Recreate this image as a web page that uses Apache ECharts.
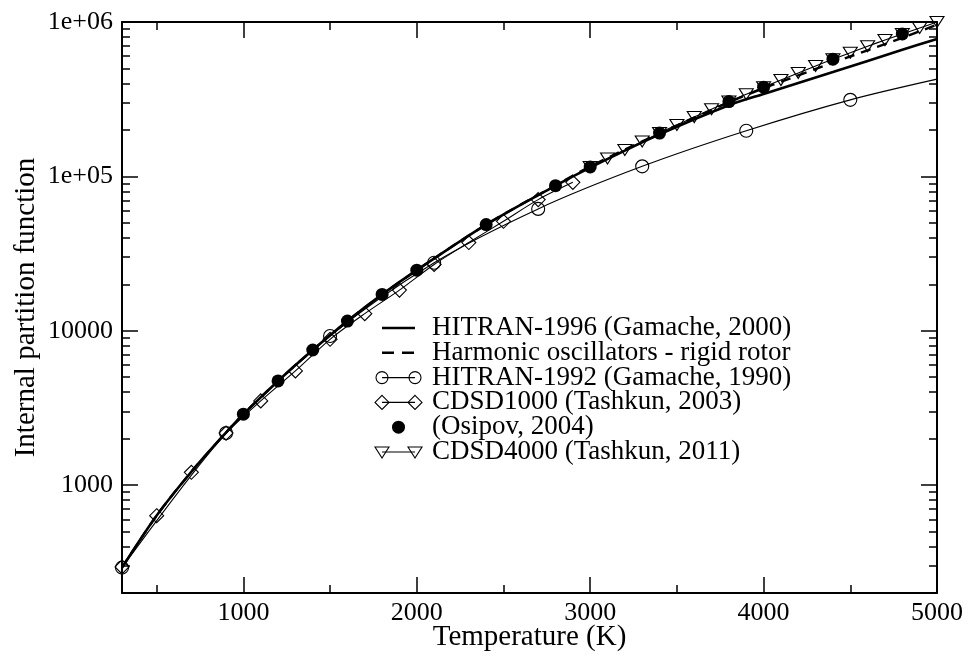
<!doctype html>
<html lang="en">
<head>
<meta charset="UTF-8">
<title>Internal partition function</title>
<script src="https://cdn.jsdelivr.net/npm/echarts@6/dist/echarts.min.js"></script>
<style>
    html, body { margin: 0; padding: 0; background: #fff; }
    #main { width: 969px; height: 656px; }
</style>
</head>
<body>
<div id="main"></div>
<script type="text/javascript">
// --- data ---
var seriesNames = [
    'HITRAN-1996 (Gamache, 2000)',
    'Harmonic oscillators - rigid rotor',
    'HITRAN-1992 (Gamache, 1990)',
    'CDSD1000 (Tashkun, 2003)',
    '(Osipov, 2004)',
    'CDSD4000 (Tashkun, 2011)'
];

// HITRAN-1996 and harmonic oscillator curves share the same temperatures
var tempCurve = [300, 500, 700, 900, 1000, 1200, 1400, 1600, 1800, 2000, 2400, 2800, 3000, 3400, 3800, 4000, 4400, 4800, 5000];
var qHitran96 = [292, 635, 1220, 2190, 2881, 4730, 7500, 11550, 17190, 24690, 48720, 87090, 114000, 187000, 289000, 342000, 474000, 661000, 776000];
var qHarmonic = [292, 635, 1220, 2190, 2881, 4730, 7500, 11550, 17190, 24690, 48720, 87500, 116000, 190000, 302000, 372000, 545000, 790000, 960000];

var tempHitran92 = [300, 900, 1500, 2100, 2700, 3300, 3900, 4500, 5000];
var qHitran92 = [292, 2172, 9240, 27560, 61540, 116100, 197400, 313100, 426300];
var markHitran92 = [1, 1, 1, 1, 1, 1, 1, 1, 0];   // last point has no symbol

var tempCdsd1000 = [300, 500, 700, 900, 1100, 1300, 1500, 1700, 1900, 2100, 2300, 2500, 2700, 2900];
var qCdsd1000 = [295, 634, 1210, 2172, 3512, 5490, 8800, 12900, 18330, 26870, 37270, 51180, 70700, 91450];

var tempOsipov = [1000, 1200, 1400, 1600, 1800, 2000, 2400, 2800, 3000, 3400, 3800, 4000, 4400, 4800];
var qOsipov = [2881, 4730, 7503, 11550, 17190, 24690, 48720, 87090, 115000, 190800, 305300, 378400, 574000, 836400];

var tempCdsd4000 = [3000, 3100, 3200, 3300, 3400, 3500, 3600, 3700, 3800, 3900, 4000, 4100, 4200, 4300, 4400, 4500, 4600, 4700, 4800, 4900, 5000];
var qCdsd4000 = [115100, 130600, 148300, 168300, 191000, 215300, 242100, 272300, 305500, 340400, 378400, 420700, 467700, 518800, 574100, 632400, 696600, 763800, 835700, 914100, 1000000];

// ticks
var xMajor = [1000, 2000, 3000, 4000, 5000];
var xMinor = [500, 1500, 2500, 3500, 4500];
var yMajor = [1000, 10000, 100000, 1000000];
var yMinor = [300, 400, 500, 600, 700, 800, 900,
              2000, 3000, 4000, 5000, 6000, 7000, 8000, 9000,
              20000, 30000, 40000, 50000, 60000, 70000, 80000, 90000,
              200000, 300000, 400000, 500000, 600000, 700000, 800000, 900000];

var FONT = 'Liberation Serif';

function pairs(xs, ys) {
    return xs.map(function (x, i) { return [x, ys[i]]; });
}

function xAxisDef(pos, ticks, len, withLabel, withLine) {
    return {
        type: 'value', position: pos, min: 300, max: 5000,
        axisLine: { show: withLine, onZero: false, lineStyle: { color: '#000', width: 2 } },
        axisTick: { show: true, inside: true, length: len, customValues: ticks,
                    lineStyle: { color: '#000', width: 1.5 } },
        axisLabel: withLabel
            ? { show: true, customValues: ticks, color: '#000', fontFamily: FONT, fontSize: 26, margin: 7,
                formatter: function (v) { return String(v); } }
            : { show: false },
        splitLine: { show: false }
    };
}

function yAxisDef(pos, ticks, len, withLabel, withLine) {
    return {
        type: 'log', logBase: 10, position: pos, min: 200, max: 1000000,
        axisLine: { show: withLine, onZero: false, lineStyle: { color: '#000', width: 2 } },
        axisTick: { show: true, inside: true, length: len, customValues: ticks,
                    lineStyle: { color: '#000', width: 1.5 } },
        axisLabel: withLabel
            ? { show: true, customValues: ticks, color: '#000', fontFamily: FONT, fontSize: 26, margin: 9,
                formatter: function (v) {
                    if (v >= 100000) return '1e+0' + Math.round(Math.log(v) / Math.LN10);
                    return String(v);
                } }
            : { show: false },
        splitLine: { show: false },
        minorSplitLine: { show: false }
    };
}

var xAxes = [
    xAxisDef('bottom', xMajor, 16, true, true),
    xAxisDef('bottom', xMinor, 8, false, false),
    xAxisDef('top', xMajor, 16, false, true),
    xAxisDef('top', xMinor, 8, false, false)
];
xAxes[0].name = 'Temperature (K)';
xAxes[0].nameLocation = 'middle';
xAxes[0].nameGap = 30;
xAxes[0].nameMoveOverlap = false;
xAxes[0].nameTextStyle = { color: '#000', fontFamily: FONT, fontSize: 29 };

var yAxes = [
    yAxisDef('left', yMajor, 16, true, true),
    yAxisDef('left', yMinor, 8, false, false),
    yAxisDef('right', yMajor, 16, false, true),
    yAxisDef('right', yMinor, 8, false, false)
];
yAxes[0].name = 'Internal partition function';
yAxes[0].nameLocation = 'middle';
yAxes[0].nameGap = 81;
yAxes[0].nameMoveOverlap = false;
yAxes[0].nameTextStyle = { color: '#000', fontFamily: FONT, fontSize: 29 };

var hollow = { color: 'rgba(255,255,255,0)', borderColor: '#000', borderWidth: 1.1, opacity: 1 };

var hitran92Data = tempHitran92.map(function (t, i) {
    var item = { value: [t, qHitran92[i]] };
    if (!markHitran92[i]) item.symbol = 'none';
    return item;
});

// legend drawn by hand so the samples carry a symbol at each end
var legendX1 = 382, legendX2 = 415, legendTextX = 432, legendY0 = 328, legendStep = 24.8;
var legendKinds = ['solid', 'dashed', 'circle', 'diamond', 'dot', 'triangle'];

function symbolShape(kind, cx, cy) {
    if (kind === 'circle') {
        return { type: 'circle', shape: { cx: cx, cy: cy, r: 6 },
                 style: { fill: 'none', stroke: '#000', lineWidth: 1.1 } };
    }
    if (kind === 'diamond') {
        return { type: 'polygon', shape: { points: [[cx, cy - 7], [cx + 7, cy], [cx, cy + 7], [cx - 7, cy]] },
                 style: { fill: 'none', stroke: '#000', lineWidth: 1.1 } };
    }
    if (kind === 'triangle') {
        return { type: 'polygon', shape: { points: [[cx - 7, cy - 5], [cx + 7, cy - 5], [cx, cy + 6]] },
                 style: { fill: 'none', stroke: '#000', lineWidth: 1.1 } };
    }
    return { type: 'circle', shape: { cx: cx, cy: cy, r: 6.5 }, style: { fill: '#000' } };
}

var legendGraphics = [];
legendKinds.forEach(function (kind, i) {
    var y = legendY0 + i * legendStep;
    if (kind === 'solid' || kind === 'dashed') {
        legendGraphics.push({ type: 'line', shape: { x1: legendX1, y1: y, x2: legendX2, y2: y },
            style: { stroke: '#000', lineWidth: 2.5, lineDash: kind === 'dashed' ? [12, 8] : null } });
    } else if (kind === 'dot') {
        legendGraphics.push(symbolShape(kind, (legendX1 + legendX2) / 2, y));
    } else {
        legendGraphics.push({ type: 'line', shape: { x1: legendX1, y1: y, x2: legendX2, y2: y },
            style: { stroke: '#000', lineWidth: 1.1 } });
        legendGraphics.push(symbolShape(kind, legendX1, y));
        legendGraphics.push(symbolShape(kind, legendX2, y));
    }
    legendGraphics.push({ type: 'text', x: legendTextX, y: y,
        style: { text: seriesNames[i], fill: '#000', fontFamily: FONT, fontSize: 27, verticalAlign: 'middle' } });
});

var myChart = echarts.init(document.getElementById('main'));
var option = {
    animation: false,
    backgroundColor: '#fff',
    grid: { left: 122, right: 32, top: 22, bottom: 63, containLabel: false, outerBoundsMode: 'none' },
    xAxis: xAxes,
    yAxis: yAxes,
    graphic: legendGraphics,
    series: [
        {
            name: seriesNames[0], type: 'line', data: pairs(tempCurve, qHitran96),
            symbol: 'none', smooth: 0.3, lineStyle: { color: '#000', width: 2.6 }, z: 3
        },
        {
            name: seriesNames[1], type: 'line', data: pairs(tempCurve, qHarmonic),
            symbol: 'none', smooth: 0.3, lineStyle: { color: '#000', width: 2.4, type: [10, 7] }, z: 3
        },
        {
            name: seriesNames[2], type: 'line', data: hitran92Data,
            symbol: 'circle', symbolSize: 13, showAllSymbol: true, smooth: 0.3, clip: false,
            itemStyle: hollow, lineStyle: { color: '#000', width: 1.1 }, z: 4
        },
        {
            name: seriesNames[3], type: 'line', data: pairs(tempCdsd1000, qCdsd1000),
            symbol: 'diamond', symbolSize: 14, showAllSymbol: true, smooth: 0.3, clip: false,
            itemStyle: hollow, lineStyle: { color: '#000', width: 1.1 }, z: 4
        },
        {
            name: seriesNames[4], type: 'scatter', data: pairs(tempOsipov, qOsipov),
            symbol: 'circle', symbolSize: 13, clip: false,
            itemStyle: { color: '#000', opacity: 1 }, z: 5
        },
        {
            name: seriesNames[5], type: 'line', data: pairs(tempCdsd4000, qCdsd4000),
            symbol: 'triangle', symbolSize: [14, 11], symbolRotate: 180, showAllSymbol: true,
            smooth: 0.3, clip: false,
            itemStyle: hollow, lineStyle: { color: '#000', width: 1.1 }, z: 4
        }
    ]
};
myChart.setOption(option);
</script>
</body>
</html>
